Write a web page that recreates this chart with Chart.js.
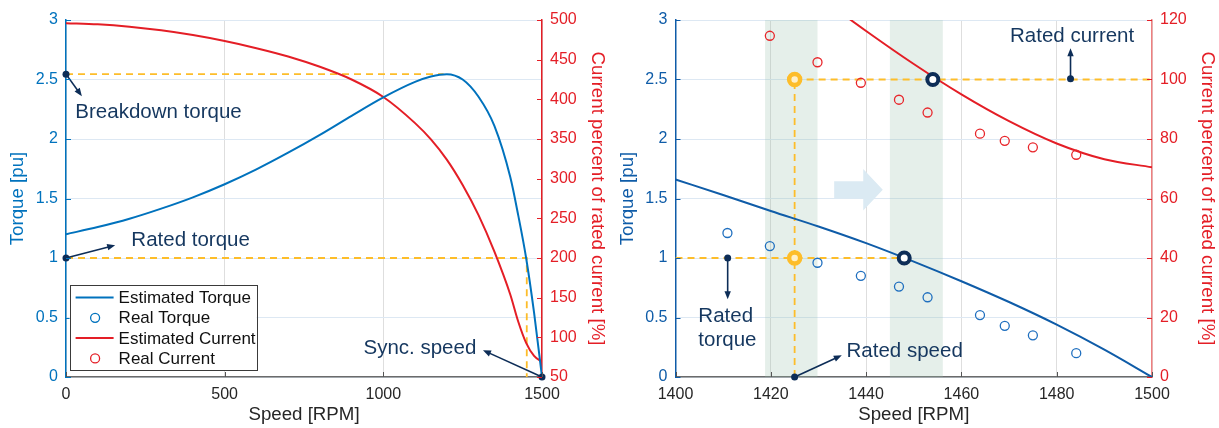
<!DOCTYPE html>
<html lang="en">
<head>
<meta charset="UTF-8">
<title>Torque and current versus speed</title>
<script src="https://cdn.jsdelivr.net/npm/chart.js@4"></script>
<style>
    body { margin: 0; background: #fff; width: 1219px; height: 428px; overflow: hidden; }
    .panel { position: absolute; top: 0; height: 428px; }
    #left { left: 0; width: 610px; }
    #right { left: 610px; width: 609px; }
</style>
</head>
<body>
<div class="panel" id="left"><canvas id="fullChart" width="610" height="428"></canvas></div>
<div class="panel" id="right"><canvas id="zoomChart" width="609" height="428"></canvas></div>
<script>
// full speed range, estimated curves
const speedFull   = [0, 100, 200, 300, 400, 500, 600, 700, 800, 900, 1000, 1100, 1150, 1200, 1250, 1300, 1350, 1400, 1425, 1450, 1475, 1500];
const torqueFull  = [1.20, 1.26, 1.33, 1.415, 1.51, 1.62, 1.745, 1.885, 2.035, 2.195, 2.35, 2.48, 2.525, 2.545, 2.50, 2.355, 2.11, 1.68, 1.36, 1.00, 0.54, 0];
const currentFull = [496, 494.5, 491.5, 487, 481, 473.5, 464.5, 454, 441, 425, 403, 370, 349.5, 324, 292, 254, 208, 154, 120, 93, 76.5, 69];

// zoom 1400-1500 rpm, estimated curves
const speedZoom        = [1400, 1410, 1420, 1430, 1440, 1450, 1460, 1470, 1480, 1490, 1500];
const torqueZoom       = [1.66, 1.53, 1.395, 1.265, 1.125, 0.97, 0.805, 0.63, 0.44, 0.23, 0];
const speedZoomCurrent = [1430, 1440, 1450, 1460, 1470, 1480, 1490, 1500];
const currentZoom      = [128, 116.3, 105.2, 95, 86, 78.5, 73.2, 70.5];

// measured points
const realSpeed   = [1410.9, 1419.8, 1429.8, 1438.9, 1446.9, 1452.9, 1463.9, 1469.1, 1475.0, 1484.1];
const realTorque  = [1.21, 1.10, 0.96, 0.85, 0.76, 0.67, 0.52, 0.43, 0.35, 0.20];
const realCurrent = [null, 114.7, 105.8, 98.9, 93.2, 88.9, 81.8, 79.4, 77.2, 74.7];

// ticks
const speedTicksFull   = [0, 500, 1000, 1500];
const speedTicksZoom   = [1400, 1420, 1440, 1460, 1480, 1500];
const torqueTicks      = [0, 0.5, 1, 1.5, 2, 2.5, 3];
const currentTicksFull = [50, 100, 150, 200, 250, 300, 350, 400, 450, 500];
const currentTicksZoom = [0, 20, 40, 60, 80, 100, 120];

// operating points
const breakdownSpeed = 1190, breakdownTorque = 2.545;
const ratedTorque = 1, ratedCurrent = 100;
const ratedSpeedFull = 1452, syncSpeed = 1500;
const ratedSpeed = 1425;
const torqueMatchSpeed = 1448, currentMatchSpeed = 1454;
const bandRanges = [[1418.8, 1429.8], [1445.0, 1456.1]];

const BLUE = '#0072BD', BLUE2 = '#0f5ca8', RED = '#e41e26', YELLOW = '#fdbd2a', NAVY = '#0d2d57', TXT = '#15375f';
const FONT = '"Liberation Sans", Arial, Helvetica, sans-serif';
Chart.defaults.font.family = FONT;

const pts = (xs, ys) => xs.map((x, i) => ({x: x, y: ys[i]}));
const setTicks = list => scale => { scale.ticks = list.map(v => ({value: v})); };

function curve(label, data, color, axis) {
    return {label, data, yAxisID: axis, showLine: true, borderColor: color, borderWidth: 2,
        pointRadius: 0, cubicInterpolationMode: 'monotone', order: 5};
}
function dashed(data, axis) {
    return {data, yAxisID: axis, showLine: true, borderColor: YELLOW, borderWidth: 1.8,
        borderDash: [7, 5], pointRadius: 0, order: 9};
}
function markers(data, axis, color, r, w, fill, order) {
    return {data, yAxisID: axis, showLine: false, pointStyle: 'circle', pointRadius: r,
        borderWidth: w, borderColor: color, backgroundColor: fill, order: order};
}

function arrowTo(ctx, x1, y1, x2, y2) {
    const a = Math.atan2(y2 - y1, x2 - x1), L = 8, W = 3.2;
    ctx.beginPath(); ctx.moveTo(x1, y1); ctx.lineTo(x2 - Math.cos(a) * 4, y2 - Math.sin(a) * 4); ctx.stroke();
    ctx.beginPath();
    ctx.moveTo(x2, y2);
    ctx.lineTo(x2 - L * Math.cos(a) + W * Math.sin(a), y2 - L * Math.sin(a) - W * Math.cos(a));
    ctx.lineTo(x2 - L * Math.cos(a) - W * Math.sin(a), y2 - L * Math.sin(a) + W * Math.cos(a));
    ctx.closePath(); ctx.fill();
}

function notesPlugin(spec) {
    return {
        id: 'notes',
        beforeDatasetsDraw(chart) {
            const {ctx, chartArea: a, scales: {x, y}} = chart;
            ctx.save();
            (spec.bands || []).forEach(b => {
                const x1 = x.getPixelForValue(b[0]), x2 = x.getPixelForValue(b[1]);
                ctx.fillStyle = 'rgba(150,190,172,0.25)';
                ctx.fillRect(x1, a.top, x2 - x1, a.bottom - a.top);
            });
            if (spec.shiftArrow) {
                ctx.fillStyle = '#dbeaf3';
                ctx.beginPath();
                spec.shiftArrow.forEach((p, i) => {
                    const px = x.getPixelForValue(p[0]), py = y.getPixelForValue(p[1]);
                    if (i === 0) ctx.moveTo(px, py); else ctx.lineTo(px, py);
                });
                ctx.closePath(); ctx.fill();
            }
            ctx.restore();
        },
        afterDatasetsDraw(chart) {
            const {ctx, scales: {x, y}} = chart;
            ctx.save();
            ctx.strokeStyle = NAVY; ctx.fillStyle = NAVY; ctx.lineWidth = 1.6;
            (spec.arrows || []).forEach(ar => {
                const x1 = x.getPixelForValue(ar[0][0]), y1 = y.getPixelForValue(ar[0][1]);
                const x2 = x.getPixelForValue(ar[1][0]), y2 = y.getPixelForValue(ar[1][1]);
                arrowTo(ctx, x1, y1, x2, y2);
                ctx.beginPath(); ctx.arc(x1, y1, 3.5, 0, Math.PI * 2); ctx.fill();
            });
            ctx.fillStyle = TXT;
            ctx.font = '20.5px ' + FONT;
            ctx.textBaseline = 'alphabetic';
            (spec.texts || []).forEach(t => {
                ctx.textAlign = t.align || 'left';
                ctx.fillText(t.text, x.getPixelForValue(t.x), y.getPixelForValue(t.y));
            });
            ctx.restore();
        },
        afterDraw(chart) {
            const {ctx, chartArea: a, scales} = chart;
            ctx.save();
            ctx.lineWidth = 1;
            // MATLAB style inward ticks
            ctx.strokeStyle = spec.leftColor;
            scales.y.ticks.forEach(t => {
                const p = Math.round(scales.y.getPixelForValue(t.value)) + 0.5;
                ctx.beginPath(); ctx.moveTo(a.left, p); ctx.lineTo(a.left + 5, p); ctx.stroke();
            });
            ctx.strokeStyle = spec.rightColor;
            scales.y1.ticks.forEach(t => {
                const p = Math.round(scales.y1.getPixelForValue(t.value)) + 0.5;
                ctx.beginPath(); ctx.moveTo(a.right - 5, p); ctx.lineTo(a.right, p); ctx.stroke();
            });
            ctx.strokeStyle = '#555';
            scales.x.ticks.forEach(t => {
                const p = Math.round(scales.x.getPixelForValue(t.value)) + 0.5;
                ctx.beginPath(); ctx.moveTo(p, a.bottom); ctx.lineTo(p, a.bottom - 5); ctx.stroke();
            });
            if (spec.legend) {
                const bx = a.left + 3.6, by = a.bottom - 92, bw = 187, bh = 85;
                ctx.fillStyle = '#fff';
                ctx.fillRect(bx, by, bw, bh);
                ctx.strokeStyle = '#3a3a3a'; ctx.lineWidth = 1;
                ctx.strokeRect(Math.round(bx) + 0.5, Math.round(by) + 0.5, bw, bh);
                ctx.font = '17px ' + FONT; ctx.textBaseline = 'middle'; ctx.textAlign = 'left';
                spec.legend.forEach((e, i) => {
                    const ry = by + 12.5 + i * 20.3;
                    ctx.strokeStyle = e.color;
                    if (e.kind === 'line') {
                        ctx.lineWidth = 2;
                        ctx.beginPath(); ctx.moveTo(bx + 6, ry); ctx.lineTo(bx + 44, ry); ctx.stroke();
                    } else {
                        ctx.lineWidth = 1.3;
                        ctx.beginPath(); ctx.arc(bx + 25.5, ry, 4.5, 0, Math.PI * 2); ctx.stroke();
                    }
                    ctx.fillStyle = '#111';
                    ctx.fillText(e.label, bx + 49, ry + 1);
                });
            }
            ctx.restore();
        }
    };
}

function scalesFor(o) {
    return {
        x: {
            type: 'linear', min: o.xMin, max: o.xMax,
            afterBuildTicks: setTicks(o.xTicks),
            afterFit: s => { s.height = 51; },
            grid: {color: '#dedede', drawTicks: false},
            border: {color: '#6b6b6b', width: 1.5},
            ticks: {color: '#262626', font: {size: 16}, padding: 7.5, callback: v => String(v)},
            title: {display: true, text: 'Speed [RPM]', color: '#262626', font: {size: 18.7}, padding: {top: 0, bottom: 2.3}}
        },
        y: {
            position: 'left', min: 0, max: 3,
            afterBuildTicks: setTicks(torqueTicks),
            afterFit: s => { s.width = o.leftW; },
            grid: {color: '#dde8f3', drawTicks: false},
            border: {color: o.leftColor, width: 1.5},
            ticks: {color: o.leftColor, font: {size: 16}, padding: 8, callback: v => String(v)},
            title: {display: true, text: 'Torque [pu]', color: o.leftColor, font: {size: 18.7}, padding: {top: 6.4, bottom: 0}}
        },
        y1: {
            position: 'right', min: o.cMin, max: o.cMax,
            afterBuildTicks: setTicks(o.cTicks),
            afterFit: s => { s.width = o.rightW; },
            grid: {display: false, drawTicks: false},
            border: {color: o.rightBorder, width: 1.5},
            ticks: {color: RED, font: {size: 16}, padding: 8, callback: v => String(v)},
            title: {display: true, text: 'Current percent of rated current [%]', color: RED, font: {size: 18.7}, padding: {top: o.rightPad, bottom: 0}}
        }
    };
}

const common = {
    responsive: false, animation: false, events: [],
    layout: {padding: {top: 20, left: 0, right: 0, bottom: 0}},
    plugins: {legend: {display: false}, tooltip: {enabled: false}}
};

// left panel: full speed range
new Chart(document.getElementById('fullChart'), {
    type: 'scatter',
    data: {
        datasets: [
            curve('Estimated Torque', pts(speedFull, torqueFull), BLUE, 'y'),
            curve('Estimated Current', pts(speedFull, currentFull), RED, 'y1'),
            dashed([{x: 0, y: breakdownTorque}, {x: breakdownSpeed, y: breakdownTorque}], 'y'),
            dashed([{x: 0, y: ratedTorque}, {x: ratedSpeedFull, y: ratedTorque}, {x: ratedSpeedFull, y: 0}], 'y')
        ]
    },
    options: Object.assign({}, common, {
        scales: scalesFor({xMin: 0, xMax: 1500, xTicks: speedTicksFull, cMin: 50, cMax: 500, cTicks: currentTicksFull,
            leftW: 66, rightW: 68, leftColor: BLUE, rightBorder: RED, rightPad: 1.3})
    }),
    plugins: [notesPlugin({
        leftColor: BLUE, rightColor: RED,
        arrows: [
            [[0, breakdownTorque], [50, 2.36]],
            [[0, ratedTorque], [155, 1.108]],
            [[syncSpeed, 0], [1314, 0.225]]
        ],
        texts: [
            {text: 'Breakdown torque', x: 29.5, y: 2.173},
            {text: 'Rated torque', x: 206, y: 1.10},
            {text: 'Sync. speed', x: 1293, y: 0.197, align: 'right'}
        ],
        legend: [
            {label: 'Estimated Torque', kind: 'line', color: BLUE},
            {label: 'Real Torque', kind: 'circle', color: BLUE},
            {label: 'Estimated Current', kind: 'line', color: RED},
            {label: 'Real Current', kind: 'circle', color: RED}
        ]
    })]
});

// right panel: zoom around rated speed
new Chart(document.getElementById('zoomChart'), {
    type: 'scatter',
    data: {
        datasets: [
            markers([{x: torqueMatchSpeed, y: ratedTorque}], 'y', NAVY, 5.5, 4, '#fff', 1),
            markers([{x: currentMatchSpeed, y: ratedCurrent}], 'y1', NAVY, 5.5, 4, '#fff', 1),
            markers([{x: ratedSpeed, y: ratedTorque}], 'y', YELLOW, 5.5, 4.5, '#fff0c8', 2),
            markers([{x: ratedSpeed, y: ratedCurrent}], 'y1', YELLOW, 5.5, 4.5, '#fff0c8', 2),
            markers(pts(realSpeed, realTorque), 'y', '#1f6fbf', 4.5, 1.3, 'rgba(0,0,0,0)', 3),
            markers(pts(realSpeed, realCurrent), 'y1', '#e8262b', 4.5, 1.3, 'rgba(0,0,0,0)', 3),
            curve('Estimated Torque', pts(speedZoom, torqueZoom), BLUE2, 'y'),
            curve('Estimated Current', pts(speedZoomCurrent, currentZoom), RED, 'y1'),
            dashed([{x: 1400, y: ratedTorque}, {x: torqueMatchSpeed, y: ratedTorque}], 'y'),
            dashed([{x: ratedSpeed, y: ratedCurrent}, {x: 1500, y: ratedCurrent}], 'y1'),
            dashed([{x: ratedSpeed, y: 0}, {x: ratedSpeed, y: 2.5}], 'y')
        ]
    },
    options: Object.assign({}, common, {
        scales: scalesFor({xMin: 1400, xMax: 1500, xTicks: speedTicksZoom, cMin: 0, cMax: 120, cTicks: currentTicksZoom,
            leftW: 65.5, rightW: 67, leftColor: BLUE2, rightBorder: '#ee8080', rightPad: 0.5})
    }),
    plugins: [notesPlugin({
        leftColor: BLUE2, rightColor: RED,
        bands: bandRanges,
        shiftArrow: [[1433.3, 1.644], [1439.4, 1.644], [1439.4, 1.747], [1443.5, 1.5735], [1439.4, 1.40], [1439.4, 1.50], [1433.3, 1.50]],
        arrows: [
            [[1482.9, 2.506], [1482.9, 2.762]],
            [[1410.95, 1.0], [1410.95, 0.653]],
            [[ratedSpeed, 0], [1434.9, 0.183]]
        ],
        texts: [
            {text: 'Rated current', x: 1470.2, y: 2.817},
            {text: 'Rated', x: 1404.8, y: 0.4626},
            {text: 'torque', x: 1404.8, y: 0.26},
            {text: 'Rated speed', x: 1435.9, y: 0.168}
        ]
    })]
});
</script>
</body>
</html>
